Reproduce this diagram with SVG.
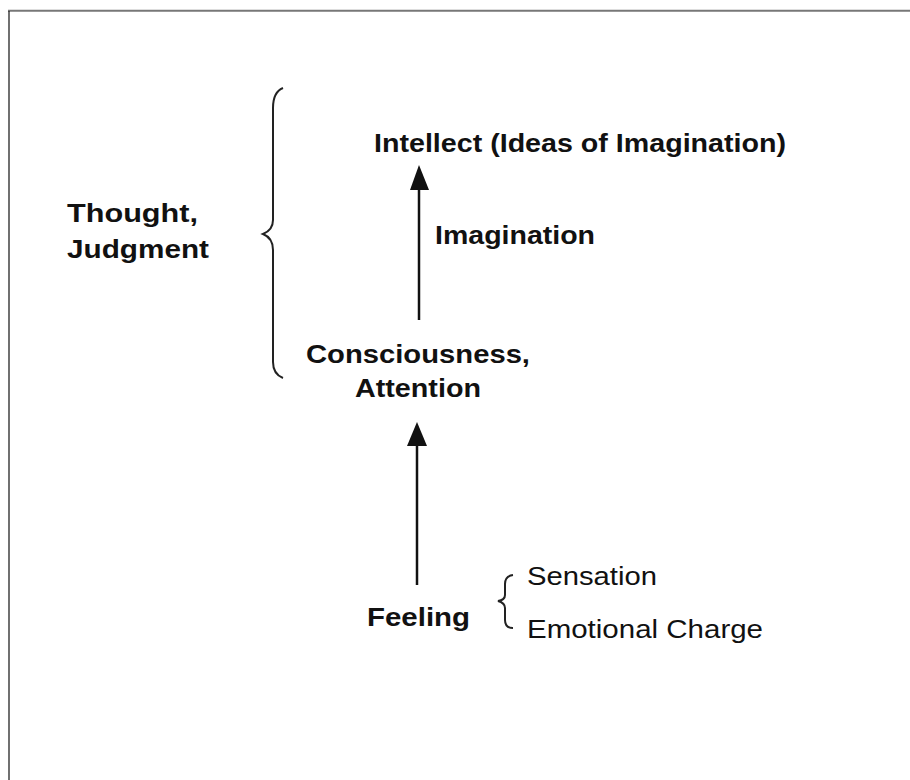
<svg xmlns="http://www.w3.org/2000/svg" width="910" height="780" viewBox="0 0 910 780">
<defs>
<style>
text{font-family:"Liberation Sans",Arial,sans-serif;fill:#111;font-size:26px}
.b{font-weight:bold}
.ln{stroke:#111;stroke-width:2.5;fill:none}
.br{stroke:#222;stroke-width:2;fill:none}
</style>
</defs>
<rect width="910" height="780" fill="#fff"/>
<line x1="8" y1="10.8" x2="910" y2="10.8" stroke="#777" stroke-width="2"/>
<line x1="9" y1="11" x2="9" y2="780" stroke="#111" stroke-width="1.2"/>
<g id="connectors">
<line class="ln" x1="419" y1="188" x2="419" y2="320"/>
<polygon points="419,165 410,190 429,190" fill="#111"/>
<line class="ln" x1="417" y1="444" x2="417" y2="585"/>
<polygon points="417,422 407,446 427,446" fill="#111"/>
</g>
<g id="brace-main">
<path class="br" d="M283,88 Q273,92 273,108 L273,220 Q273,230 263,234 Q273,238 273,250 L273,362 Q273,374 283,378"/>
</g>
<g id="brace-feeling">
<path class="br" d="M513,575 Q505,576 505,584 L505,595 Q505,600 498,601 Q505,603 505,608 L505,620 Q505,628 513,628"/>
</g>
<g id="intellect"><text class="b" x="374" y="152" textLength="412" lengthAdjust="spacingAndGlyphs">Intellect (Ideas of Imagination)</text></g>
<g id="imagination"><text class="b" x="435" y="244" textLength="160" lengthAdjust="spacingAndGlyphs" style="font-weight:600">Imagination</text></g>
<g id="consciousness">
<text class="b" x="306" y="363" textLength="224" lengthAdjust="spacingAndGlyphs">Consciousness,</text>
<text class="b" x="355" y="397" textLength="126" lengthAdjust="spacingAndGlyphs">Attention</text>
</g>
<g id="thought">
<text class="b" x="67" y="222" textLength="131" lengthAdjust="spacingAndGlyphs">Thought,</text>
<text class="b" x="67" y="258" textLength="142" lengthAdjust="spacingAndGlyphs">Judgment</text>
</g>
<g id="feeling"><text class="b" x="367" y="626" textLength="103" lengthAdjust="spacingAndGlyphs">Feeling</text></g>
<g id="sensation"><text x="527" y="585" textLength="130" lengthAdjust="spacingAndGlyphs">Sensation</text></g>
<g id="emotional"><text x="527" y="638" textLength="236" lengthAdjust="spacingAndGlyphs">Emotional Charge</text></g>
</svg>
